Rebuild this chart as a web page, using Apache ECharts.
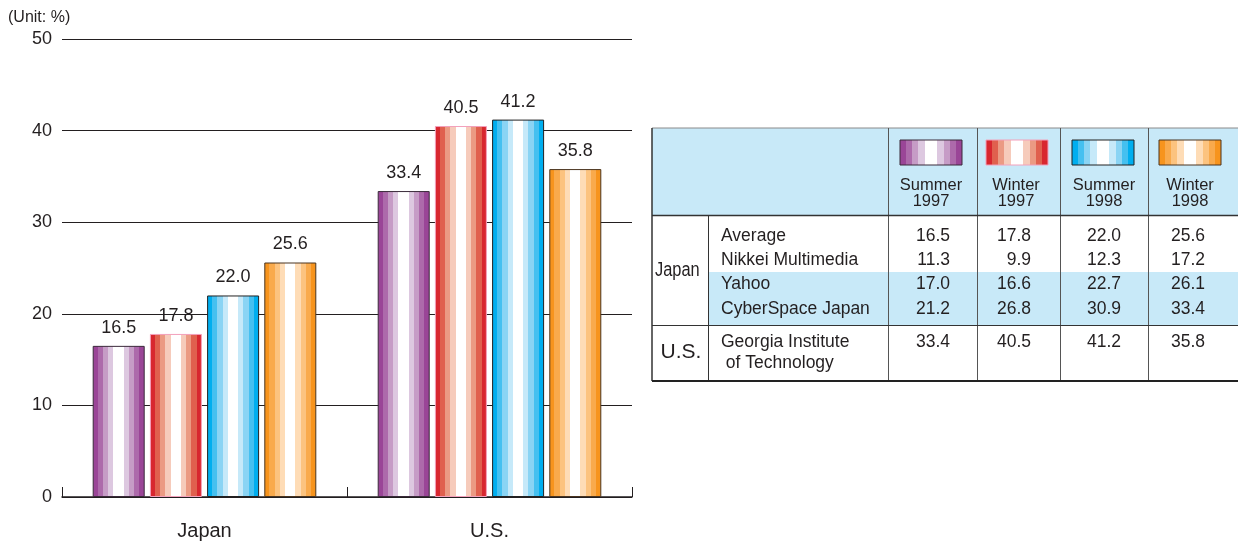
<!DOCTYPE html>
<html>
<head>
<meta charset="utf-8">
<script src="https://cdn.jsdelivr.net/npm/echarts@6/dist/echarts.min.js"></script>
<style>
  html, body { margin: 0; padding: 0; background: #fff; }
  #chart { width: 1238px; height: 543px; }
</style>
</head>
<body>
<div id="chart"></div>
<script>
// Regions on the category axis
const regions = ['Japan', 'U.S.'];

// Survey periods (legend / series)
const periods = ['Summer 1997', 'Winter 1997', 'Summer 1998', 'Winter 1998'];
const periodTop = ['Summer', 'Winter', 'Summer', 'Winter'];
const periodBottom = ['1997', '1997', '1998', '1998'];

// Bar values per period: [Japan average, U.S.]
const summer1997 = [16.5, 33.4];
const winter1997 = [17.8, 40.5];
const summer1998 = [22.0, 41.2];
const winter1998 = [25.6, 35.8];
const barValues = [summer1997, winter1997, summer1998, winter1998];

// Table rows
const japanRowNames = ['Average', 'Nikkei Multimedia', 'Yahoo', 'CyberSpace Japan'];
const japanAverage = ['16.5', '17.8', '22.0', '25.6'];
const nikkeiMultimedia = ['11.3', '9.9', '12.3', '17.2'];
const yahoo = ['17.0', '16.6', '22.7', '26.1'];
const cyberSpaceJapan = ['21.2', '26.8', '30.9', '33.4'];
const japanRows = [japanAverage, nikkeiMultimedia, yahoo, cyberSpaceJapan];
const usRowName = ['Georgia Institute', ' of Technology'];
const georgiaTech = ['33.4', '40.5', '41.2', '35.8'];

const yTicks = [0, 10, 20, 30, 40, 50];

// Stripe palettes, from the edge colour towards the white centre
const palettes = [
  ['#9a4597', '#ad6aab', '#c69cc6', '#ddc8e0'],
  ['#d8272f', '#e0604e', '#eb9a83', '#f6cbbb'],
  ['#00aeef', '#45c0f0', '#8ad4f4', '#c6e9f9'],
  ['#f7941d', '#f9aa4c', '#fcc37f', '#fedcb6']
];
const borders = ['#3a2a3a', '#f3a0bb', '#222222', '#4a3520'];

function stripes(cols) {
  const seq = [...cols, '#ffffff', '#ffffff', ...cols.slice().reverse()];
  const n = seq.length;
  const stops = [];
  seq.forEach((c, i) => {
    stops.push({ offset: i / n, color: c });
    stops.push({ offset: (i + 1) / n - 0.0001, color: c });
  });
  return { type: 'linear', x: 0, y: 0, x2: 1, y2: 0, colorStops: stops };
}

const FONT = '"Liberation Sans", Arial, Helvetica, sans-serif';
const textColor = '#231f20';

const series = barValues.map((vals, i) => ({
  name: periods[i],
  type: 'bar',
  data: vals,
  barWidth: 52,
  barGap: '10%',
  itemStyle: { color: stripes(palettes[i]), borderColor: borders[i], borderWidth: 1 },
  label: {
    show: true, position: 'top', distance: 9,
    formatter: p => p.value.toFixed(1),
    fontFamily: FONT, fontSize: 18, color: textColor
  }
}));

// ---- table drawn with graphic elements ----
const T = {
  left: 652, right: 1238, top: 128, headBottom: 215.5, jpBottom: 325.5, bottom: 381,
  cols: [652, 708, 888, 977, 1060, 1148],
  swatchX: [900, 986, 1072, 1159], swatchW: 62, swatchY: 140, swatchH: 25,
  headCenters: [931, 1016, 1104, 1190],
  valueRight: [950, 1031, 1121, 1205],
  rowY: [236, 260, 284, 309],
  usY: 342
};
const TS = 17.5; // table text size
const g = [];
// header fill
g.push({ type: 'rect', shape: { x: T.left, y: T.top, width: T.right - T.left, height: T.headBottom - T.top },
  style: { fill: '#c8e9f8' }, z: 1 });
// highlighted rows (Yahoo, CyberSpace Japan)
g.push({ type: 'rect', shape: { x: T.cols[1], y: 272, width: T.right - T.cols[1], height: T.jpBottom - 272 },
  style: { fill: '#c8e9f8' }, z: 1 });
function line(x1, y1, x2, y2, stroke, w) {
  g.push({ type: 'line', shape: { x1, y1, x2, y2 }, style: { stroke, lineWidth: w }, z: 5 });
}
line(T.left, T.top, T.right, T.top, '#8a8a8a', 1);
line(T.left, T.top, T.left, T.bottom, '#333', 1.5);
for (let k = 2; k < T.cols.length; k++) line(T.cols[k] + 0.5, T.top, T.cols[k] + 0.5, T.bottom, '#555', 1);
line(T.cols[1] + 0.5, T.headBottom, T.cols[1] + 0.5, T.bottom, '#333', 1);
line(T.left, T.headBottom, T.right, T.headBottom, '#333', 1.5);
line(T.left, T.jpBottom, T.right, T.jpBottom, '#333', 1);
line(T.left, T.bottom, T.right, T.bottom, '#222', 2);

function text(str, x, y, opts) {
  g.push({ type: 'text', x, y, z: 10,
    style: Object.assign({ text: str, fontFamily: FONT, fontSize: TS, fill: textColor,
      textAlign: 'left', textVerticalAlign: 'middle' }, opts || {}) });
}
// legend swatches + headers
periods.forEach((p, i) => {
  g.push({ type: 'rect', z: 6,
    shape: { x: T.swatchX[i], y: T.swatchY, width: T.swatchW, height: T.swatchH },
    style: { fill: stripes(palettes[i]), stroke: borders[i], lineWidth: 1 } });
  text(periodTop[i], T.headCenters[i], 185, { textAlign: 'center', fontSize: 16.5 });
  text(periodBottom[i], T.headCenters[i], 201.5, { textAlign: 'center', fontSize: 16.5 });
});
// Japan rows
g.push({ type: 'text', x: 655, y: 270, scaleX: 0.82, z: 10,
  style: { text: 'Japan', fontFamily: FONT, fontSize: 20, fill: textColor, textAlign: 'left', textVerticalAlign: 'middle' } });
japanRowNames.forEach((name, r) => {
  text(name, 721, T.rowY[r]);
  japanRows[r].forEach((v, c) => text(v, T.valueRight[c], T.rowY[r], { textAlign: 'right' }));
});
// U.S. row
text('U.S.', 681, 352, { fontSize: 21, textAlign: 'center' });
text(usRowName[0], 721, T.usY);
text(usRowName[1], 721, T.usY + 21);
georgiaTech.forEach((v, c) => text(v, T.valueRight[c], T.usY, { textAlign: 'right' }));
// unit note
text('(Unit: %)', 8, 18, { fontSize: 16 });

const chart = echarts.init(document.getElementById('chart'), null, { renderer: 'canvas' });
chart.setOption({
  animation: false,
  backgroundColor: '#fff',
  grid: { left: 62, right: 606, top: 39, bottom: 46, containLabel: false },
  xAxis: {
    type: 'category', data: regions, boundaryGap: true,
    axisLine: { lineStyle: { color: '#231f20', width: 1.5 } },
    axisTick: { show: true, inside: true, length: 10, lineStyle: { color: '#231f20', width: 1 } },
    axisLabel: { fontFamily: FONT, fontSize: 20, color: textColor, margin: 24 }
  },
  yAxis: {
    type: 'value', min: 0, max: 50, interval: 10,
    axisLine: { show: false }, axisTick: { show: false },
    axisLabel: { fontFamily: FONT, fontSize: 18, color: textColor, margin: 10,
      formatter: v => yTicks.includes(v) ? String(v) : '' },
    splitLine: { show: true, lineStyle: { color: '#231f20', width: 1 } }
  },
  series,
  graphic: g
});
</script>
</body>
</html>
